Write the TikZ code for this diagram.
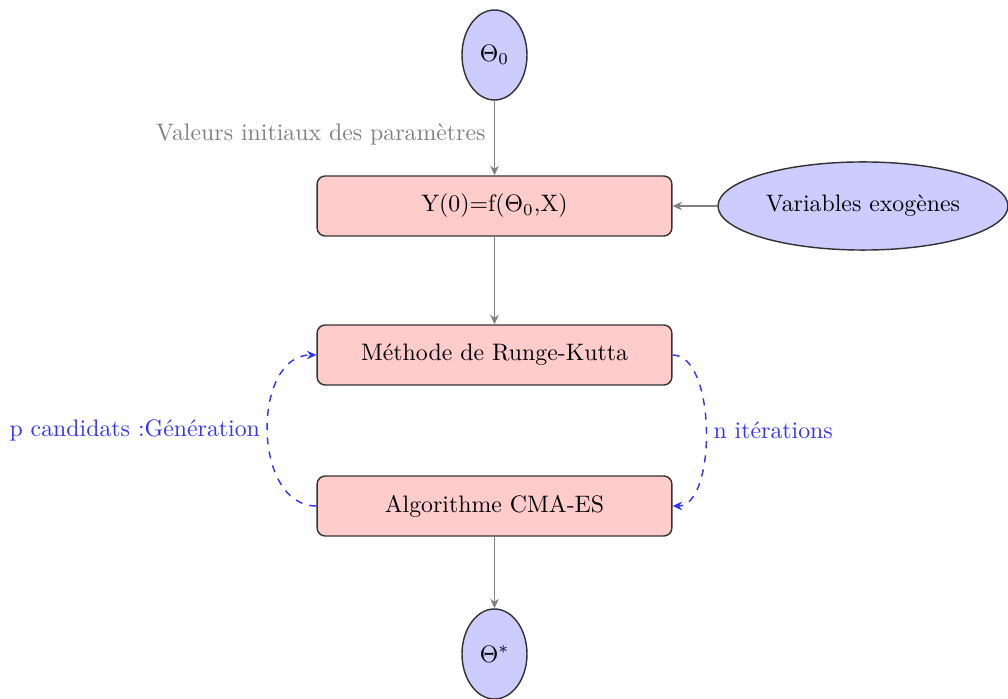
\documentclass[tikz,border=0pt]{standalone}
\usetikzlibrary{shapes.geometric,arrows.meta}
\begin{document}
\begin{tikzpicture}[x=0.42pt,y=-0.42pt,
  blobnode/.style={ellipse,draw=black!80,line width=0.6pt,fill=blue!20,inner sep=0pt},
  boxnode/.style={rectangle,rounded corners=3.4pt,draw=black!80,line width=0.6pt,fill=red!20,minimum width=149pt,minimum height=25.2pt},
  grayarrow/.style={draw=gray,line width=0.5pt,-{Stealth[length=4pt,width=3.6pt]}},
  loopy/.style={draw=blue!80,dashed,line width=0.6pt,-{Stealth[length=4pt,width=3.6pt]}}]
\useasboundingbox (0,0) rectangle (1008,699);
\node[blobnode,minimum width=27.3pt,minimum height=37.8pt] (t0) at (494.5,55) {$\Theta_0$};
\node[boxnode] (y0) at (494.5,206) {Y(0)=f($\Theta_0$,X)};
\node[blobnode,minimum width=121.8pt,minimum height=37pt] (ex) at (863,206) {Variables exogènes};
\node[boxnode] (rk) at (494.5,355) {Méthode de Runge-Kutta};
\node[boxnode] (cma) at (494.5,506) {Algorithme CMA-ES};
\node[blobnode,minimum width=27.3pt,minimum height=37.8pt] (ts) at (494.5,654) {$\Theta^{*}$};
\node[text=gray,anchor=east,inner sep=0pt] (lab) at (486,135) {Valeurs initiaux des paramètres};
\draw[grayarrow] (t0) -- (y0);
\draw[grayarrow] (ex) -- (y0);
\draw[grayarrow] (y0) -- (rk);
\draw[grayarrow] (cma) -- (ts);
\draw[loopy] (cma.west) to[out=180,in=180,looseness=1.1] node[left,text=blue!80,inner sep=3pt] {p candidats :Génération} (rk.west);
\draw[loopy] (rk.east) to[out=0,in=0,looseness=0.75] node[right,text=blue!80,inner sep=3pt] {n itérations} (cma.east);
\end{tikzpicture}
\end{document}
